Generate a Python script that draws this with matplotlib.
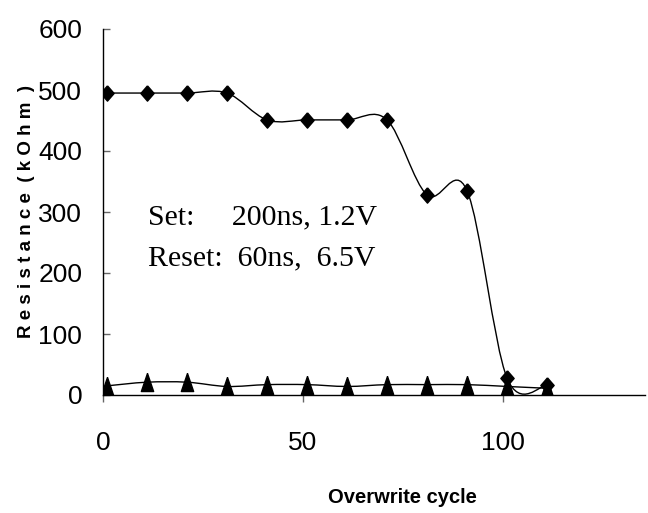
import matplotlib
matplotlib.use('Agg')
import matplotlib.pyplot as plt
import numpy as np
from matplotlib.path import Path
from matplotlib.patches import PathPatch

# data
cycles = [1, 11, 21, 31, 41, 51, 61, 71, 81, 91, 101, 111]
r_reset = [495, 495, 495, 495, 451, 451, 451, 451, 328, 335, 28, 16]   # diamonds
r_set = [15, 21, 21, 14, 17, 17, 14, 17, 17, 17, 14, 11]               # triangles
x_ticks = [0, 50, 100]
y_ticks = [0, 100, 200, 300, 400, 500, 600]

SANS = ['Liberation Sans', 'DejaVu Sans']
SERIF = ['Liberation Serif', 'DejaVu Serif']

DIAMOND = [(0, 1), (0.87, 0), (0, -1), (-0.87, 0), (0, 1)]
TRIANGLE = [(0, 1), (0.68, -1), (-0.68, -1), (0, 1)]


def smooth_path(x, y):
    # Excel-style smoothed line: Catmull-Rom as cubic bezier segments
    pts = np.column_stack([x, y]).astype(float)
    ext = np.vstack([pts[0], pts, pts[-1]])
    verts = [pts[0]]
    codes = [Path.MOVETO]
    for i in range(len(pts) - 1):
        p0, p1, p2, p3 = ext[i], ext[i + 1], ext[i + 2], ext[i + 3]
        verts += [p1 + (p2 - p0) / 6, p2 - (p3 - p1) / 6, p2]
        codes += [Path.CURVE4] * 3
    return Path(verts, codes)


fig = plt.figure(figsize=(6.48, 5.13), dpi=100)
ax = fig.add_axes([103 / 648, 1 - 395 / 513, 542 / 648, 366 / 513])
ax.set_xlim(0, 135.5)
ax.set_ylim(0, 600)

for ys in (r_reset, r_set):
    ax.add_patch(PathPatch(smooth_path(cycles, ys), fill=False, edgecolor='black',
                           lw=1.0, zorder=2))

ax.plot(cycles, r_reset, linestyle='none', marker=DIAMOND, markersize=11,
        color='black', zorder=3)
ax.plot(cycles, r_set, linestyle='none', marker=TRIANGLE, markersize=13,
        color='black', zorder=3)

for s in ('top', 'right'):
    ax.spines[s].set_visible(False)
for s in ('left', 'bottom'):
    ax.spines[s].set_linewidth(1.0)
    ax.spines[s].set_color('black')

ax.set_xticks(x_ticks)
ax.set_yticks(y_ticks)
ax.tick_params(axis='x', direction='out', length=5, width=1, color='#666666', pad=21)
ax.tick_params(axis='y', direction='in', length=5, width=1, color='#666666', pad=15)
for lab in ax.get_xticklabels() + ax.get_yticklabels():
    lab.set_family(SANS)
    lab.set_fontsize(19)

ax.text(0.552, -0.279, 'Overwrite cycle', transform=ax.transAxes, ha='center',
        va='center', fontsize=14.5, fontweight='bold', family=SANS)
ax.text(-0.142, 0.5, 'R e s i s t a n c e  ( k O h m  )', transform=ax.transAxes,
        ha='center', va='center', rotation=90, fontsize=13.5, fontweight='bold',
        family=SANS)

ax.text(11.25, 279, 'Set:     200ns, 1.2V', ha='left', va='baseline', fontsize=21.5,
        family=SERIF)
ax.text(11.25, 213, 'Reset:  60ns,  6.5V', ha='left', va='baseline', fontsize=21.5,
        family=SERIF)

fig.savefig('out.png', dpi=100)
plt.close(fig)
